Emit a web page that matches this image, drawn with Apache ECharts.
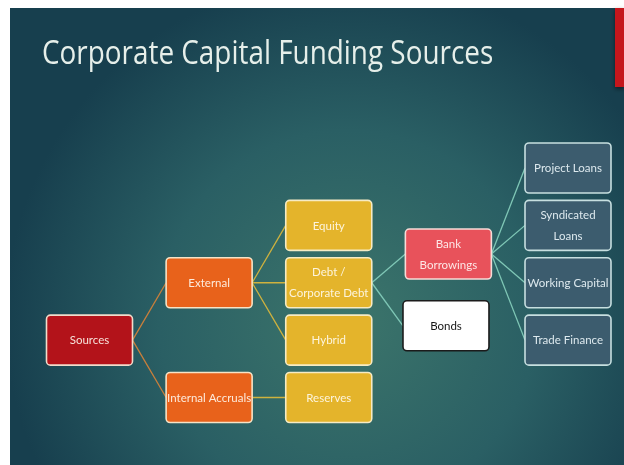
<!DOCTYPE html>
<html>
<head>
<meta charset="utf-8">
<script src="https://cdn.jsdelivr.net/npm/echarts@6/dist/echarts.min.js"></script>
<style>
html,body{margin:0;padding:0;background:#ffffff;}
#chart{width:624px;height:465px;}
</style>
</head>
<body>
<div id="chart"></div>
<script>
// ---- data ----
const titleText = 'Corporate Capital Funding Sources';
const nodeNames = ['Sources', 'External', 'Internal Accruals', 'Equity', 'Debt /\nCorporate Debt', 'Hybrid', 'Reserves', 'Bank\nBorrowings', 'Bonds', 'Project Loans', 'Syndicated\nLoans', 'Working Capital', 'Trade Finance'];
const nodeLevels = [0, 1, 1, 2, 2, 2, 2, 3, 2.98, 4, 4, 4, 4];
const nodeRows = [3, 2, 4, 1, 2, 3, 4, 1.5, 2.75, 0, 1, 2, 3];
const nodeKinds = ['root', 'mid', 'mid', 'leaf', 'leaf', 'leaf', 'leaf', 'bank', 'bond', 'loan', 'loan', 'loan', 'loan'];
const linkFrom = [0, 0, 1, 1, 1, 2, 4, 4, 7, 7, 7, 7];
const linkTo = [1, 2, 3, 4, 5, 6, 7, 8, 9, 10, 11, 12];

// ---- styles ----
const kindStyle = {
  root: {fill: '#b3131a', stroke: '#f1dccb', text: '#f7e2da', edge: '#c97f3b'},
  mid:  {fill: '#e8621b', stroke: '#f6e3c6', text: '#fdeadb', edge: '#cfb23e'},
  leaf: {fill: '#e4b42b', stroke: '#f6ebc4', text: '#fdf4dc', edge: '#7fc7b6'},
  bank: {fill: '#e8525b', stroke: '#f6dcd8', text: '#fde6e6', edge: '#7fc7b6'},
  bond: {fill: '#ffffff', stroke: '#1b1b1b', text: '#161616', edge: '#7fc7b6'},
  loan: {fill: '#3c5c6e', stroke: '#c7dfe0', text: '#dde9ee', edge: '#7fc7b6'}
};
const BW = 86, BH = 50;

const nodeData = nodeNames.map((n, i) => [nodeLevels[i], nodeRows[i], i]);
const linkData = linkFrom.map((f, i) => [nodeLevels[f], nodeRows[f], nodeLevels[linkTo[i]], nodeRows[linkTo[i]], f]);

const chart = echarts.init(document.getElementById('chart'), null, {renderer: 'canvas'});
chart.setOption({
  animation: false,
  graphic: [
    {type: 'rect', z: -10, shape: {x: 10, y: 8, width: 614, height: 457},
     style: {fill: {type: 'radial', x: 0.55, y: 0.68, r: 0.75,
       colorStops: [{offset: 0, color: '#3c756b'}, {offset: 0.55, color: '#2a5f64'}, {offset: 1, color: '#173f4e'}]}}},
    {type: 'rect', z: -9, shape: {x: 615, y: 8, width: 9, height: 79},
     style: {fill: '#c5161c', shadowBlur: 4, shadowColor: 'rgba(0,0,0,0.5)', shadowOffsetY: 2}},
    {type: 'text', z: 5, x: 42, y: 55, scaleX: 0.845, scaleY: 1,
     style: {text: titleText, x: 0, y: 0, align: 'left', verticalAlign: 'middle',
       fill: '#e6efea', fontSize: 33, fontFamily: 'Open Sans'}}
  ],
  grid: {left: 89.5, right: 56, top: 168, bottom: 67.5},
  xAxis: {type: 'value', min: 0, max: 4, show: false},
  yAxis: {type: 'value', min: 0, max: 4, inverse: true, show: false},
  series: [
    {
      type: 'custom', z: 1,
      data: linkData,
      renderItem: function (params, api) {
        const a = api.coord([api.value(0), api.value(1)]);
        const b = api.coord([api.value(2), api.value(3)]);
        const kind = nodeKinds[api.value(4)];
        return {type: 'line', shape: {x1: a[0] + BW / 2, y1: a[1], x2: b[0] - BW / 2, y2: b[1]},
          style: {stroke: kindStyle[kind].edge, lineWidth: 1.3}};
      }
    },
    {
      type: 'custom', z: 2,
      data: nodeData,
      renderItem: function (params, api) {
        const c = api.coord([api.value(0), api.value(1)]);
        const i = api.value(2);
        const s = kindStyle[nodeKinds[i]];
        return {type: 'group', children: [
          {type: 'rect', shape: {x: c[0] - BW / 2, y: c[1] - BH / 2, width: BW, height: BH, r: 4},
           style: {fill: s.fill, stroke: s.stroke, lineWidth: 1.6}},
          {type: 'text', style: {text: nodeNames[i], x: c[0], y: c[1] + 0.5, align: 'center', verticalAlign: 'middle',
           fill: s.text, fontSize: 11.5, fontFamily: 'Lato', lineHeight: 21}}
        ]};
      }
    }
  ]
});
</script>
</body>
</html>
